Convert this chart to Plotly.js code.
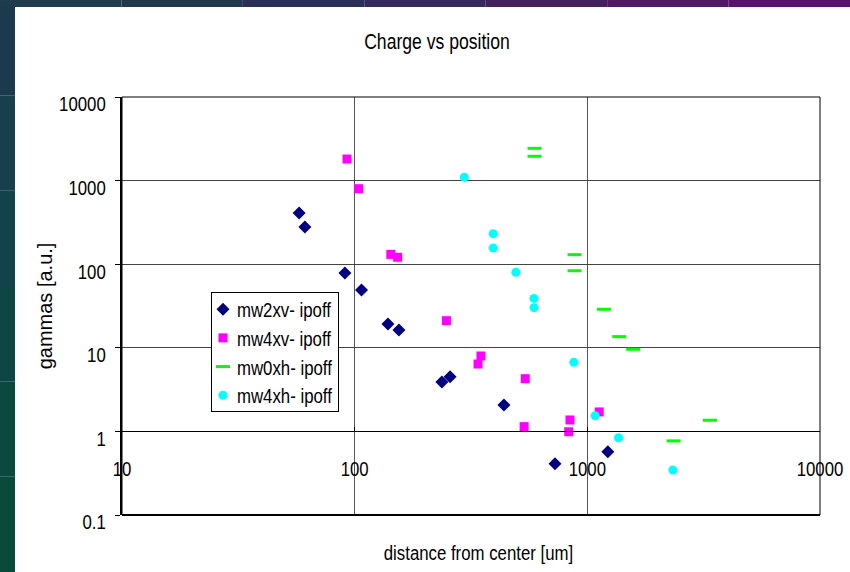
<!DOCTYPE html>
<html>
<head>
<meta charset="utf-8">
<script src="https://cdn.plot.ly/plotly-3.0.1.min.js"></script>
<style>html,body{margin:0;padding:0;background:#fff;}#chart{width:850px;height:572px;}</style>
</head>
<body>
<div id="chart"></div>
<script>
// ---- data ----
const mw2xvX = [57.7, 61.1, 90.8, 107, 139, 155, 237, 257, 438, 726, 1225];
const mw2xvY = [409, 279, 78.5, 49, 19.3, 16.3, 3.9, 4.5, 2.07, 0.41, 0.57];

const mw4xvX = [92.7, 104, 143, 153, 248, 349, 339, 541, 535, 842, 832, 1125];
const mw4xvY = [1812, 800, 131, 121, 21.1, 7.98, 6.4, 4.27, 1.14, 1.37, 0.99, 1.71];

const mw0xhX = [593, 593, 881, 881, 1178, 1371, 1575, 3365, 2350];
const mw0xhY = [2432, 1954, 130, 83.6, 28.9, 13.6, 9.6, 1.36, 0.77];

const mw4xhX = [296, 394, 394, 493, 590, 590, 875, 1081, 1362, 2333];
const mw4xhY = [1095, 232, 156, 80, 39, 30.2, 6.7, 1.54, 0.84, 0.345];

const seriesNames = ["mw2xv- ipoff", "mw4xv- ipoff", "mw0xh- ipoff", "mw4xh- ipoff"];
const xTickVals = [10, 100, 1000, 10000];
const xTickText = ["10", "100", "1000", "10000"];
const yTickVals = [0.1, 1, 10, 100, 1000, 10000];
const yTickText = ["0.1", "1", "10", "100", "1000", "10000"];

const FONT = "'Liberation Sans', Arial, sans-serif";
const SQUEEZE = 0.8;   // reference text is set in a narrow face

const traces = [
  {x: mw2xvX, y: mw2xvY, name: seriesNames[0], mode: "markers", type: "scatter",
   marker: {symbol: "diamond", size: 10, color: "#000080"}},
  {x: mw4xvX, y: mw4xvY, name: seriesNames[1], mode: "markers", type: "scatter",
   marker: {symbol: "square", size: 9, color: "#ff00ff"}},
  {x: mw0xhX, y: mw0xhY, name: seriesNames[2], mode: "markers", type: "scatter",
   marker: {symbol: "line-ew", size: 10, color: "#00ff00", line: {color: "#00ff00", width: 3}}},
  {x: mw4xhX, y: mw4xhY, name: seriesNames[3], mode: "markers", type: "scatter",
   marker: {symbol: "circle", size: 9, color: "#00ffff"}}
];

// background frame bands (decoration)
const L = 122, R = 820, T = 97, B = 515;
const W = R - L, H = B - T;
function px(xp) { return (xp - L) / W; }
function py(yp) { return (B - yp) / H; }
const shapes = [];
const leftCols = ["#1c3a4c", "#183f4c", "#12434a", "#0e4646", "#0b4840", "#0a4a3b"];
for (let i = 0; i < leftCols.length; i++) {
  const y0 = i * 572 / leftCols.length, y1 = (i + 1) * 572 / leftCols.length;
  shapes.push({type: "rect", xref: "paper", yref: "paper", layer: "below",
    x0: px(0), x1: px(15), y0: py(y1), y1: py(y0), fillcolor: leftCols[i], line: {width: 0}});
}
const topCols = ["#1e3c4e", "#22384f", "#2a3056", "#362a5c", "#44205f", "#521868", "#5a126e"];
for (let i = 0; i < topCols.length; i++) {
  const x0 = i * 850 / topCols.length, x1 = (i + 1) * 850 / topCols.length;
  shapes.push({type: "rect", xref: "paper", yref: "paper", layer: "below",
    x0: px(x0), x1: px(x1), y0: py(7), y1: py(0), fillcolor: topCols[i], line: {width: 0}});
}
// plot frame
shapes.push({type: "rect", xref: "paper", yref: "paper", x0: 0, x1: 1, y0: 0, y1: 1,
  line: {color: "#000", width: 1}, layer: "above"});
shapes.push({type: "line", xref: "paper", yref: "paper", x0: 0, x1: 1, y0: 0, y1: 0,
  line: {color: "#000", width: 2}, layer: "above"});

const layout = {
  width: 850, height: 572,
  margin: {l: L, r: 850 - R, t: T, b: 572 - B},
  paper_bgcolor: "#ffffff", plot_bgcolor: "#ffffff",
  font: {family: FONT, color: "#000", size: 21},
  title: {text: "Charge vs position", x: 437 / 850, xanchor: "center", y: 1 - 41 / 572, yanchor: "middle",
          font: {family: FONT, size: 22, color: "#000"}},
  xaxis: {type: "log", range: [1, 4], anchor: "free", position: 0.2,
          tickvals: xTickVals, ticktext: xTickText, showgrid: true, gridcolor: "#555", gridwidth: 1,
          showline: true, linecolor: "#000", linewidth: 1, ticks: "inside", ticklen: 4, tickcolor: "#000",
          zeroline: false, ticklabelstandoff: 18, tickfont: {family: FONT, size: 21}},
  yaxis: {type: "log", range: [-1, 4], tickvals: yTickVals, ticktext: yTickText,
          showgrid: true, gridcolor: "#444", gridwidth: 1, showline: true, linecolor: "#000", linewidth: 2,
          ticks: "outside", ticklen: 5, tickcolor: "#000", zeroline: false,
          ticklabelshift: 7, ticklabelstandoff: 5, tickfont: {family: FONT, size: 21},
          title: {text: "gammas [a.u.]", font: {family: FONT, size: 20}, standoff: 0}},
  annotations: [
    {text: "distance from center [um]", xref: "paper", yref: "paper", x: px(478), y: py(552),
     xanchor: "center", yanchor: "middle", showarrow: false, font: {family: FONT, size: 21, color: "#000"}}
  ],
  showlegend: true,
  legend: {x: px(211), y: py(292), xanchor: "left", yanchor: "top",
           bgcolor: "#ffffff", bordercolor: "#000", borderwidth: 1,
           font: {family: FONT, size: 21, color: "#000"}, itemwidth: 30},
  shapes: shapes
};

function squeezeText(s) {
  document.querySelectorAll("#chart svg text").forEach(function (t) {
    if (!t.textContent.trim()) return;
    const old = t.getAttribute("transform") || "";
    if (old.indexOf("rotate") >= 0) {
      // y-axis title: move it closer to the tick labels, as in the reference
      t.setAttribute("transform", "translate(11,0) " + old);
      return;
    }
    const bb = t.getBBox();
    const anchor = t.getAttribute("text-anchor") || "start";
    let ax = bb.x;
    if (anchor === "middle") ax = bb.x + bb.width / 2;
    else if (anchor === "end") ax = bb.x + bb.width;
    const extra = t.classList.contains("legendtext") ? " translate(-6,0)" : "";
    t.setAttribute("transform", old + extra + " translate(" + ax + ",0) scale(" + s + ",1) translate(" + (-ax) + ",0)");
  });
  // tighten the legend to the narrower text
  const items = document.querySelectorAll("#chart .legend g.traces");
  let y0 = null;
  items.forEach(function (g, i) {
    const m = /translate\(\s*([-\d.]+)[ ,]+([-\d.]+)\s*\)/.exec(g.getAttribute("transform") || "");
    if (!m) return;
    const x = parseFloat(m[1]), y = parseFloat(m[2]);
    if (y0 === null) y0 = y - 4;
    g.setAttribute("transform", "translate(" + (x - 9) + "," + (y0 + i * 28.7) + ")");
  });
  const bg = document.querySelector("#chart .legend rect.bg");
  if (bg) { bg.setAttribute("width", 127); bg.setAttribute("height", 119); }
}

Plotly.newPlot("chart", traces, layout, {displayModeBar: false, staticPlot: true})
  .then(function () { squeezeText(SQUEEZE); });
</script>
</body>
</html>
